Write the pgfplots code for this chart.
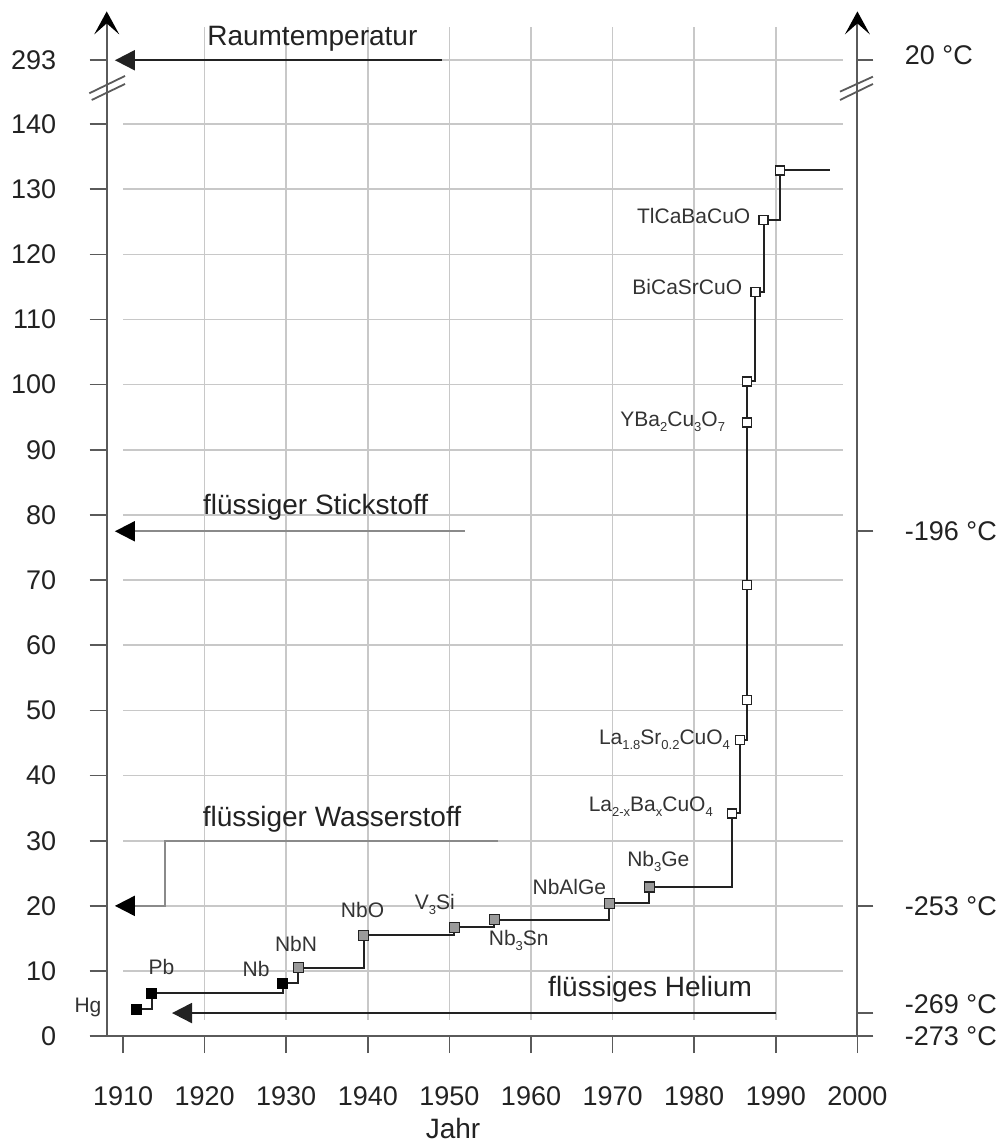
\documentclass[border=0pt]{standalone}
\usepackage{pgfplots}
\pgfplotsset{compat=1.18}
\usepackage{fontspec}
\setmainfont{Liberation Sans}
\usetikzlibrary{arrows.meta}
\definecolor{gridc}{HTML}{C8C8C8}
\definecolor{axc}{HTML}{5A5A5A}
\definecolor{linec}{HTML}{222222}
\definecolor{markg}{HTML}{9A9A9A}
\definecolor{txtc}{HTML}{222222}
\definecolor{lblc}{HTML}{333333}
\definecolor{grayline}{HTML}{8A8A8A}
\newcommand{\tickfont}{\fontsize{27}{32}\selectfont}
\newcommand{\annfont}{\fontsize{28}{33}\selectfont}
\newcommand{\elfont}{\fontsize{21}{25}\selectfont}
\newcommand{\sub}[1]{\raisebox{-5pt}{\fontsize{13}{13}\selectfont #1}}
\begin{document}
\begin{tikzpicture}
\begin{axis}[
  scale only axis, width=750.7pt, height=1024.8pt,
  xmin=1908, xmax=2000, ymin=0, ymax=157.3,
  clip=false,
  axis x line*=bottom, axis y line*=left,
  axis line style={draw=none,-},
  tick align=outside, major tick length=17pt,
  tick style={axc, line width=1.6pt},
  xtick={1910,1920,...,2000},
  ytick={0,10,20,30,40,50,60,70,80,90,100,110,120,130,140,149.8},
  yticklabels={0,10,20,30,40,50,60,70,80,90,100,110,120,130,140,293},
  /pgf/number format/1000 sep={},
  /pgf/number format/assume math mode=true,
  xticklabel style={font=\tickfont, color=txtc, anchor=north, text height=49pt},
  yticklabel style={font=\tickfont, color=txtc, xshift=-30pt},
]
% grid
\pgfplotsinvokeforeach{10,20,30,40,50,60,70,80,90,100,110,120,130,140,149.8}{
  \draw[gridc, line width=1.6pt] (axis cs:1910,#1) -- (axis cs:1998.2,#1);
}
\pgfplotsinvokeforeach{1920,1930,1940,1950,1960,1970,1980,1990}{
  \draw[gridc, line width=1.6pt] (axis cs:#1,2.5) -- (axis cs:#1,154.9);
}
% axes
\draw[axc, line width=2pt] (axis cs:1905.95,0) -- (axis cs:2001.9,0);
\draw[axc, line width=2pt, -{Stealth[length=23pt,width=25pt,inset=11pt,color=black]}] (axis cs:1908,0) -- (axis cs:1908,157.3);
\draw[axc, line width=2pt, -{Stealth[length=23pt,width=25pt,inset=11pt,color=black]}] (axis cs:2000,0) -- (axis cs:2000,157.3);
% break marks
\draw[axc, line width=1.8pt] (axis cs:1905.87,144.73) -- (axis cs:1910.24,147.39);
\draw[axc, line width=1.8pt] (axis cs:1906.16,143.70) -- (axis cs:1910.24,146.16);
\draw[axc, line width=1.8pt] (axis cs:1997.87,144.98) -- (axis cs:2001.9,147.28);
\draw[axc, line width=1.8pt] (axis cs:1997.87,143.70) -- (axis cs:2001.9,146.16);
% reference arrows
\draw[linec, line width=2pt, -{Triangle[length=20pt,width=20pt]}] (axis cs:1949.1,149.8) -- (axis cs:1909.0,149.8);
\draw[grayline, line width=2pt, -{Triangle[length=20pt,width=20pt,color=black]}] (axis cs:1951.9,77.5) -- (axis cs:1909.0,77.5);
\draw[grayline, line width=2pt, -{Triangle[length=20pt,width=20pt,color=black]}] (axis cs:1956,30) -- (axis cs:1915.1,30) -- (axis cs:1915.1,20) -- (axis cs:1909.0,20);
\draw[linec, line width=2pt, -{Triangle[length=20pt,width=20pt]}] (axis cs:1990,3.55) -- (axis cs:1916,3.55);
% annotation texts
\node[anchor=base, inner sep=0pt, font=\annfont, color=txtc] at (axis cs:1933.2,152.1) {Raumtemperatur};
\node[anchor=base, inner sep=0pt, font=\annfont, color=txtc] at (axis cs:1933.6,80.0) {flüssiger Stickstoff};
\node[anchor=base, inner sep=0pt, font=\annfont, color=txtc] at (axis cs:1935.6,32.2) {flüssiger Wasserstoff};
\node[anchor=base, inner sep=0pt, font=\annfont, color=txtc] at (axis cs:1974.6,6.07) {flüssiges Helium};
% data
\addplot[linec, line width=2pt, const plot, no marks] coordinates {
 (1911.7,4.1) (1913.5,6.6) (1929.6,8.1) (1931.5,10.5) (1939.5,15.5)
 (1950.6,16.7) (1955.5,17.9) (1969.6,20.4) (1974.5,22.9) (1984.6,34.2)
 (1985.6,45.5) (1986.5,51.6) (1986.5,69.2) (1986.5,94.2) (1986.5,100.5)
 (1987.5,114.2) (1988.5,125.3) (1990.5,132.9) (1996.6,132.9)};
\addplot[only marks, mark=square*, mark size=5pt, mark options={fill=black, draw=black, line width=1pt}] coordinates {
 (1911.7,4.1) (1913.5,6.6) (1929.6,8.1)};
\addplot[only marks, mark=square*, mark size=5pt, mark options={fill=markg, draw=linec, line width=1.3pt}] coordinates {
 (1931.5,10.5) (1939.5,15.5) (1950.6,16.7) (1955.5,17.9) (1969.6,20.4) (1974.5,22.9)};
\addplot[only marks, mark=square*, mark size=4.5pt, mark options={fill=white, draw=linec, line width=1.3pt}] coordinates {
 (1984.6,34.2) (1985.6,45.5) (1986.5,51.6) (1986.5,69.2) (1986.5,94.2) (1986.5,100.5)
 (1987.5,114.2) (1988.5,125.3) (1990.5,132.9)};
% element labels
\begin{scope}[every node/.style={inner sep=0pt, font=\elfont, color=lblc}]
\node[anchor=base] at (axis cs:1905.7,3.71) {Hg};
\node[anchor=base] at (axis cs:1914.7,9.5) {Pb};
\node[anchor=base] at (axis cs:1926.3,9.2) {Nb};
\node[anchor=base] at (axis cs:1931.2,13.0) {NbN};
\node[anchor=base] at (axis cs:1939.35,18.2) {NbO};
\node[anchor=base] at (axis cs:1948.2,19.4) {V\sub{3}Si};
\node[anchor=base] at (axis cs:1958.5,13.85) {Nb\sub{3}Sn};
\node[anchor=base] at (axis cs:1964.7,21.8) {NbAlGe};
\node[anchor=base] at (axis cs:1975.6,26.1) {Nb\sub{3}Ge};
\node[anchor=base east] at (axis cs:1982.3,34.5) {La\sub{2-x}Ba\sub{x}CuO\sub{4}};
\node[anchor=base east] at (axis cs:1984.4,44.7) {La\sub{1.8}Sr\sub{0.2}CuO\sub{4}};
\node[anchor=base east] at (axis cs:1983.8,93.55) {YBa\sub{2}Cu\sub{3}O\sub{7}};
\node[anchor=base east] at (axis cs:1985.9,113.8) {BiCaSrCuO};
\node[anchor=base east] at (axis cs:1986.9,124.7) {TlCaBaCuO};
\end{scope}
\node[anchor=base, inner sep=0pt, font=\annfont, color=txtc] at (axis cs:1950.44,-15.7) {Jahr};
\coordinate (bbA) at (axis cs:1894.92,-16.55);
\coordinate (bbB) at (axis cs:2018.45,159.05);
\end{axis}
\begin{axis}[
  scale only axis, width=750.7pt, height=1024.8pt,
  xmin=1908, xmax=2000, ymin=0, ymax=157.3,
  axis y line*=right, axis x line=none,
  axis line style={draw=none,-},
  tick align=outside, major tick length=16pt,
  tick style={axc, line width=1.6pt},
  ytick={0,3.55,20,77.5,149.8},
  yticklabels={{-273 °C},{\raisebox{17pt}{-269 °C}},{-253 °C},{-196 °C},{\raisebox{10pt}{20 °C}}},
  yticklabel style={font=\tickfont, color=txtc, anchor=west, xshift=28pt},
]
\end{axis}
\pgfresetboundingbox
\path[use as bounding box] (bbA) rectangle (bbB);
\end{tikzpicture}
\end{document}
